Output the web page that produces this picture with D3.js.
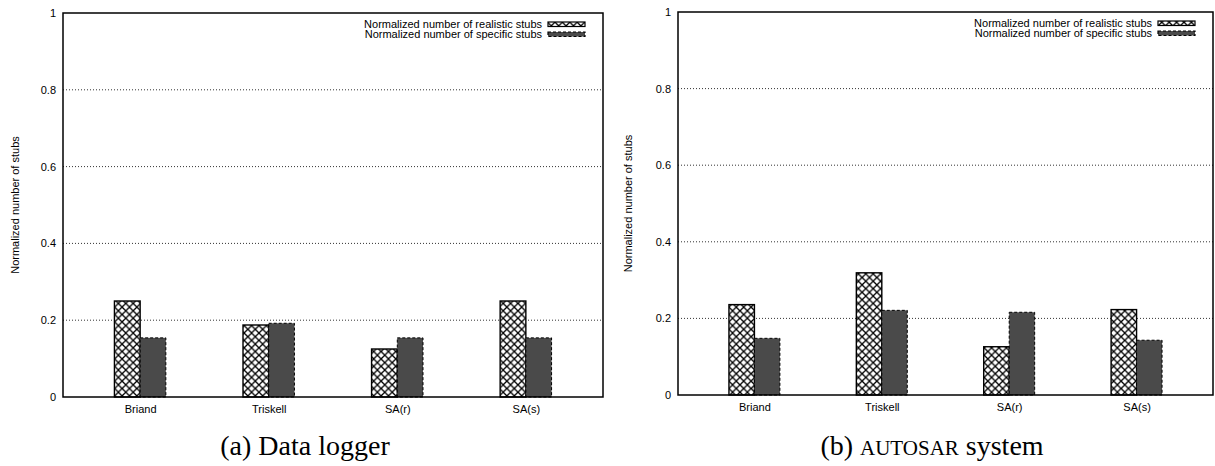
<!DOCTYPE html>
<html>
<head>
<meta charset="utf-8">
<script src="https://cdn.jsdelivr.net/npm/d3@7"></script>
<style>
  html, body { margin: 0; padding: 0; background: #fff; }
  svg { display: block; }
  .sans { font-family: "Liberation Sans", Arial, Helvetica, sans-serif; }
  .serif { font-family: "Liberation Serif", "Times New Roman", serif; }
</style>
</head>
<body>
<svg id="chart" width="1215" height="466"></svg>
<script>
// ---- Data ----
const categories = ["Briand", "Triskell", "SA(r)", "SA(s)"];
const loggerRealistic = [0.25, 0.1875, 0.125, 0.25];
const loggerSpecific = [0.154, 0.192, 0.154, 0.154];
const autosarRealistic = [0.236, 0.319, 0.126, 0.223];
const autosarSpecific = [0.148, 0.221, 0.216, 0.143];
const yTicks = [0, 0.2, 0.4, 0.6, 0.8, 1];
const gridTicks = [0.2, 0.4, 0.6, 0.8];
const legendLabels = ["Normalized number of realistic stubs", "Normalized number of specific stubs"];
const yLabel = "Normalized number of stubs";

const svg = d3.select("#chart");

// crosshatch pattern
const defs = svg.append("defs");
const P = 7.4;
const pat = defs.append("pattern")
  .attr("id", "xhatch")
  .attr("patternUnits", "userSpaceOnUse")
  .attr("width", P).attr("height", P);
pat.append("rect").attr("width", P).attr("height", P).attr("fill", "#fff");
pat.append("path")
  .attr("d", `M-1,-1 L${P + 1},${P + 1} M-1,${P + 1} L${P + 1},-1`)
  .attr("stroke", "#000").attr("stroke-width", 1.3).attr("fill", "none");

function panel(cfg) {
  const { left, right, top, bottom, realistic, specific, yLabelX, caption } = cfg;
  const g = svg.append("g");
  const x = d3.scaleLinear().domain([-0.6, 3.6]).range([left, right]);
  const y = d3.scaleLinear().domain([0, 1]).range([bottom, top]);

  // grid lines
  g.append("g").selectAll("line").data(gridTicks).join("line")
    .attr("x1", left).attr("x2", right)
    .attr("y1", d => y(d)).attr("y2", d => y(d))
    .attr("stroke", "#333").attr("stroke-width", 1)
    .attr("stroke-dasharray", "1,2");

  // y axis (labels only)
  const yAxis = d3.axisLeft(y).tickValues(yTicks).tickSize(0).tickPadding(7)
    .tickFormat(d => d3.format("")(+d.toFixed(1)));
  const ya = g.append("g").attr("transform", `translate(${left},0)`).call(yAxis);
  ya.select(".domain").remove();
  ya.selectAll("text").attr("class", "sans").attr("font-size", 11).attr("fill", "#000");

  // x axis (labels only)
  const xAxis = d3.axisBottom(x).tickValues(d3.range(categories.length))
    .tickSize(0).tickPadding(8).tickFormat(i => categories[i]);
  const xa = g.append("g").attr("transform", `translate(0,${bottom})`).call(xAxis);
  xa.select(".domain").remove();
  xa.selectAll("text").attr("class", "sans").attr("font-size", 11).attr("fill", "#000");

  // bars
  g.append("g").selectAll("rect").data(realistic).join("rect")
    .attr("x", (d, i) => x(i - 0.2))
    .attr("width", (d, i) => x(i) - x(i - 0.2))
    .attr("y", d => y(d))
    .attr("height", d => y(0) - y(d))
    .attr("fill", "url(#xhatch)")
    .attr("stroke", "#000").attr("stroke-width", 1.4);

  g.append("g").selectAll("rect").data(specific).join("rect")
    .attr("x", (d, i) => x(i))
    .attr("width", (d, i) => x(i + 0.2) - x(i))
    .attr("y", d => y(d))
    .attr("height", d => y(0) - y(d))
    .attr("fill", "#4a4a4a")
    .attr("stroke", "#000").attr("stroke-width", 1)
    .attr("stroke-dasharray", "3,2");

  // frame
  g.append("rect")
    .attr("x", left).attr("y", top)
    .attr("width", right - left).attr("height", bottom - top)
    .attr("fill", "none").attr("stroke", "#000").attr("stroke-width", 1.5);

  // legend
  const lg = g.append("g");
  const textEnd = right - 61;
  const rows = [top + 11, top + 21];
  legendLabels.forEach((lab, k) => {
    lg.append("text").attr("class", "sans").attr("font-size", 11)
      .attr("x", textEnd).attr("y", rows[k]).attr("dy", "0.35em")
      .attr("text-anchor", "end").text(lab);
    lg.append("rect")
      .attr("x", right - 55).attr("y", rows[k] - 2)
      .attr("width", 37).attr("height", 4.5)
      .attr("fill", k === 0 ? "url(#xhatch)" : "#4a4a4a")
      .attr("stroke", "#000").attr("stroke-width", 1.2)
      .attr("stroke-dasharray", k === 0 ? null : "3,2");
  });

  // y label
  g.append("text").attr("class", "sans").attr("font-size", 11)
    .attr("transform", `translate(${yLabelX},${(top + bottom) / 2}) rotate(-90)`)
    .attr("text-anchor", "middle").attr("dy", "0.35em")
    .text(yLabel);

  // caption
  const cap = svg.append("text").attr("class", "serif")
    .attr("font-size", 28).attr("x", caption.x).attr("y", 455)
    .attr("text-anchor", "middle");
  caption.parts.forEach(p => {
    cap.append("tspan").attr("font-size", p.small ? 21 : 28).text(p.t);
  });
}

panel({
  left: 63, right: 603, top: 13, bottom: 397,
  realistic: loggerRealistic, specific: loggerSpecific,
  yLabelX: 15,
  caption: { x: 305, parts: [{ t: "(a) Data logger" }] }
});

panel({
  left: 678, right: 1213, top: 12, bottom: 395,
  realistic: autosarRealistic, specific: autosarSpecific,
  yLabelX: 628,
  caption: { x: 932, parts: [{ t: "(b) " }, { t: "AUTOSAR", small: true }, { t: " system" }] }
});
</script>
</body>
</html>
